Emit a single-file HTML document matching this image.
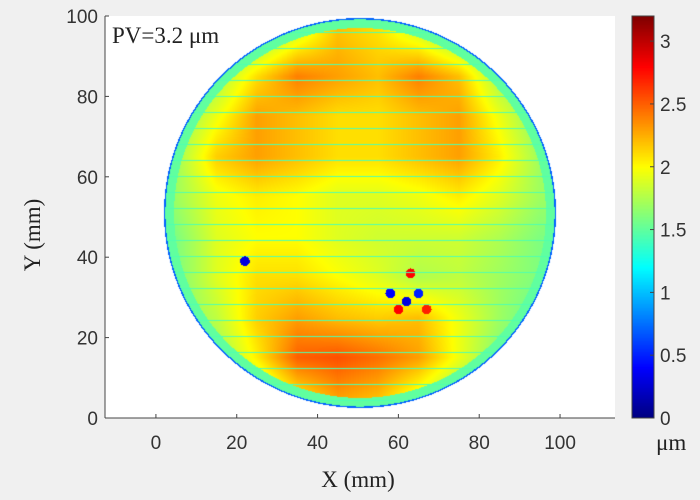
<!DOCTYPE html>
<html><head><meta charset="utf-8"><style>
body{margin:0;background:#f0f0f0;width:700px;height:500px;overflow:hidden;position:relative;font-family:"Liberation Sans",sans-serif}
#plot{position:absolute;left:105px;top:16px;width:510px;height:402px;background:#fff}
#map{position:absolute;left:105px;top:16px}
#cb{position:absolute;left:632px;top:16px}
svg{position:absolute;left:0;top:0}
</style></head><body>
<div id="plot"></div>
<canvas id="map" width="510" height="402"></canvas>
<canvas id="cb" width="22" height="402"></canvas>
<svg id="ax" width="700" height="500"></svg>
<script>
const gridX=[5,15,25,35,45,55,65,75,85,95];
const gridY=[95,85,75,65,55,45,35,25,15,5];
const heights=[
[1.5,1.5,1.6,1.9,2.2,2.1,1.9,1.6,1.5,1.5],
[1.5,1.7,2.1,2.4,2.3,2.2,2.4,2.2,1.7,1.5],
[1.6,1.95,2.3,2.2,2.1,2.1,2.2,2.3,1.95,1.6],
[1.7,2.15,2.3,2.2,2.1,2.1,2.2,2.3,2.05,1.7],
[1.7,1.95,2.05,2.0,1.9,1.9,1.95,2.05,1.9,1.7],
[1.6,1.9,2.0,2.0,1.9,1.85,1.85,1.85,1.75,1.6],
[1.6,1.9,2.1,2.1,2.0,1.9,1.75,1.8,1.7,1.6],
[1.6,1.8,2.15,2.3,2.2,2.15,2.2,1.95,1.7,1.5],
[1.5,1.65,2.05,2.5,2.55,2.45,2.3,1.95,1.6,1.5],
[1.5,1.5,1.65,2.05,2.3,2.2,1.9,1.6,1.5,1.5]];
const defectX=[62,58,65,22,63,60,67];
const defectY=[29,31,31,39,36,27,27];
const defectV=[0.3,0.4,0.5,0.3,2.8,2.8,2.7];
const xTicks=[0,20,40,60,80,100];
const yTicks=[0,20,40,60,80,100];
const cTicks=[0,0.5,1,1.5,2,2.5,3];
const xMin=-12.6,xMax=113.6,yMin=0,yMax=100,cMax=3.2;
const L=105,T=16,W=510,H=402;
const sx=v=>L+(v-xMin)/(xMax-xMin)*W;
const sy=v=>T+H-(v-yMin)/(yMax-yMin)*H;
function jet(t){t=Math.max(0,Math.min(1,t));
 const r=Math.max(0,Math.min(1,1.5-Math.abs(4*t-3))),g=Math.max(0,Math.min(1,1.5-Math.abs(4*t-2))),b=Math.max(0,Math.min(1,1.5-Math.abs(4*t-1)));
 return [r*255,g*255,b*255];}
function interp(x,y){
 let fx=(x-gridX[0])/(gridX[1]-gridX[0]);fx=Math.max(0,Math.min(gridX.length-1.001,fx));
 let fy=(gridY[0]-y)/(gridY[0]-gridY[1]);fy=Math.max(0,Math.min(gridY.length-1.001,fy));
 const i=Math.floor(fx),j=Math.floor(fy),a=fx-i,b=fy-j;
 return heights[j][i]*(1-a)*(1-b)+heights[j][i+1]*a*(1-b)+heights[j+1][i]*(1-a)*b+heights[j+1][i+1]*a*b;}
const cx=50.5,cy=51,R=48.5;
const ctx=document.getElementById('map').getContext('2d');
const img=ctx.createImageData(W,H);
for(let py=0;py<H;py++)for(let px=0;px<W;px++){
 const x=xMin+(px+0.5)/W*(xMax-xMin),y=yMax-(py+0.5)/H*(yMax-yMin);
 const d=Math.hypot(x-cx,y-cy);
 const k=(py*W+px)*4;
 if(d>R){img.data[k+3]=0;continue;}
 let v=interp(x,y);
 for(let m=0;m<defectX.length;m++){const dd=Math.hypot(x-defectX[m],y-defectY[m]);if(dd<1.2)v=defectV[m];}
 if(py%16===0)v=Math.min(v,1.45);
 if(d>R-0.35)v=0.7;else if(d>R-2.5)v=Math.min(v,1.5);
 const c=jet(v/cMax);img.data[k]=c[0];img.data[k+1]=c[1];img.data[k+2]=c[2];img.data[k+3]=255;}
ctx.putImageData(img,0,0);
const cctx=document.getElementById('cb').getContext('2d');
for(let py=0;py<402;py++){const v=(402-py)/402*cMax;const c=jet(v/cMax);cctx.fillStyle=`rgb(${c[0]|0},${c[1]|0},${c[2]|0})`;cctx.fillRect(0,py,22,1);}
const svg=document.getElementById('ax');const NS='http://www.w3.org/2000/svg';
function add(tag,attrs,text){const e=document.createElementNS(NS,tag);for(const k in attrs)e.setAttribute(k,attrs[k]);if(text!==undefined)e.textContent=text;svg.appendChild(e);return e;}
let e=add('line',{x1:L,y1:T,x2:L,y2:T+H,stroke:'#444','stroke-width':1});

e=add('line',{x1:L,y1:T+H,x2:L+W,y2:T+H,stroke:'#444','stroke-width':1});

xTicks.forEach(v=>{const x=sx(v);
 add('line',{x1:x,y1:T+H,x2:x,y2:T+H-4,stroke:'#444'});
 const t=add('text',{x:x,y:449,'text-anchor':'middle','font-size':19,fill:'#333'},String(v));
 });
yTicks.forEach(v=>{const y=sy(v);
 add('line',{x1:L,y1:y,x2:L+4,y2:y,stroke:'#444'});
 const t=add('text',{x:98,y:y+7,'text-anchor':'end','font-size':19,fill:'#333'},String(v));
 });
cTicks.forEach(v=>{const y=T+H-v/cMax*H;
 add('line',{x1:650,y1:y,x2:654,y2:y,stroke:'#444'});
 const t=add('text',{x:660,y:y+7,'font-size':19,fill:'#333'},String(v));
 });
e=add('rect',{x:632,y:T,width:22,height:H,fill:'none',stroke:'#444'});

e=add('text',{x:358,y:487,'text-anchor':'middle','font-size':23,'font-family':'Liberation Serif',fill:'#222'},'X (mm)');

e=add('text',{x:0,y:0,'text-anchor':'middle','font-size':23,'font-family':'Liberation Serif',fill:'#222',transform:'translate(40,235) rotate(-90)'},'Y (mm)');

e=add('text',{x:112,y:43,'font-size':23,'font-family':'Liberation Serif',fill:'#222'},'PV=3.2 μm');

e=add('text',{x:656,y:450,'font-size':23,'font-family':'Liberation Serif',fill:'#222'},'μm');

</script>
</body></html>
